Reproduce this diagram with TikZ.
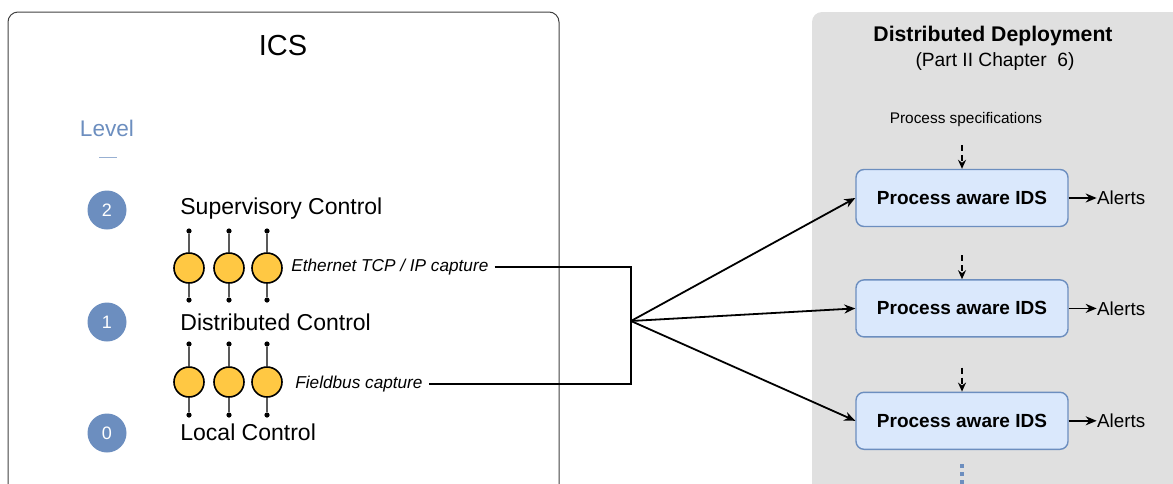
\documentclass[tikz,border=0pt]{standalone}
\usepackage{fontspec}
\setmainfont{Liberation Sans}
\usetikzlibrary{arrows.meta,positioning}
\definecolor{lvlblue}{HTML}{6C8EBF}
\definecolor{tapyellow}{HTML}{FFC843}
\definecolor{idsfill}{HTML}{DAE8FC}
\definecolor{panelgray}{HTML}{E0E0E0}
\tikzstyle{frame} = [draw=black!75,line width=0.5pt,rounded corners=5pt]
\tikzstyle{panel} = [fill=panelgray,rounded corners=5pt]
\tikzstyle{lvl} = [circle,fill=lvlblue,text=white,inner sep=0,minimum size=19.5pt,font=\fontsize{9}{10}\selectfont]
\tikzstyle{lvlname} = [anchor=west,inner sep=0,font=\fontsize{11.5}{13}\selectfont]
\tikzstyle{tap} = [draw,line width=0.8pt,circle,inner sep=0,minimum size=15pt,fill=tapyellow]
\tikzstyle{index} = [-,black!65,line width=0.6pt]
\tikzstyle{site} = [circle,fill=black,minimum size=2.6pt,inner sep=0pt,outer sep=0pt]
\tikzstyle{capture} = [anchor=west,inner sep=3pt,font=\fontsize{8.6}{10}\selectfont\itshape]
\tikzstyle{wire} = [-,line width=0.9pt]
\tikzstyle{feed} = [-{Stealth[length=5.5pt,width=4.5pt]},line width=0.9pt]
\tikzstyle{ids} = [draw=lvlblue,fill=idsfill,line width=0.7pt,rounded corners=4pt,minimum width=106pt,minimum height=28.5pt,font=\fontsize{9.5}{11}\selectfont\bfseries]
\tikzstyle{specin} = [-{Stealth[length=4.5pt,width=4pt]},line width=0.7pt,dash pattern=on 3pt off 2pt]
\tikzstyle{alert} = [anchor=west,inner sep=0,font=\fontsize{9.4}{11}\selectfont]
\tikzstyle{more} = [draw=lvlblue,line width=1.8pt,dash pattern=on 2pt off 2pt]

\begin{document}
\begin{tikzpicture}[x=0.5pt,y=-0.5pt]
      \clip (0,0) rectangle (1173,483);
      % ICS side
      \draw[frame] (8,12) rectangle (559,520);
      \node[font=\fontsize{14.5}{17}\selectfont] (ics) at (283,46) {ICS};
      \node[text=lvlblue,font=\fontsize{11.3}{13}\selectfont] (level) at (107,128) {Level};
      \draw[lvlblue!70,line width=0.5pt] (99,157) -- (117,157);
      \node[lvl] (l2) at (107,210) {2};
      \node[lvl] (l1) at (107,322) {1};
      \node[lvl] (l0) at (107,433) {0};
      \node[lvlname] (sup) at (180,209) {Supervisory Control};
      \node[lvlname] (dist) at (180,322) {Distributed Control};
      \node[lvlname] (loc) at (180,432) {Local Control};
      \foreach \x [count=\i] in {189,229,267} {
        \node[site] (ethtop\i) at (\x,231) {};
        \node[site] (ethbot\i) at (\x,300) {};
        \node[tap] (eth\i) at (\x,268) {};
        \draw[index] (ethtop\i) -- (eth\i);
        \draw[index] (eth\i) -- (ethbot\i);
        \node[site] (fbtop\i) at (\x,344) {};
        \node[site] (fbbot\i) at (\x,415) {};
        \node[tap] (fb\i) at (\x,382) {};
        \draw[index] (fbtop\i) -- (fb\i);
        \draw[index] (fb\i) -- (fbbot\i);
      }
      \node[capture] (ethcap) at (285,267) {Ethernet TCP / IP capture};
      \node[capture] (fbcap) at (289,384) {Fieldbus capture};
      \coordinate (bus) at (631,321);
      \draw[wire] (ethcap.east) -| (bus);
      \draw[wire] (bus) |- (fbcap.east);
      % deployment side
      \path[panel] (812,12) rectangle (1200,520);
      \node[font=\fontsize{10.6}{12}\selectfont\bfseries] (dd) at (993,36) {Distributed Deployment};
      \node[font=\fontsize{9.6}{11}\selectfont] (part) at (995,62) {(Part II Chapter\ \ 6)};
      \node[font=\fontsize{7.7}{9}\selectfont] (spec) at (966,120) {Process specifications};
      \node[ids] (ids1) at (962,198) {Process aware IDS};
      \node[ids,below=26pt of ids1] (ids2) {Process aware IDS};
      \node[ids,below=27pt of ids2] (ids3) {Process aware IDS};
      \foreach \i in {1,2,3} {
        \coordinate[above=12pt of ids\i] (in\i);
        \draw[specin] (in\i) -- (ids\i);
        \node[alert,right=14pt of ids\i] (al\i) {Alerts};
        \draw[feed] (ids\i) -- (al\i);
        \draw[feed] (bus) -- (ids\i.west);
      }
      \coordinate[below=7pt of ids3] (moretop);
      \draw[more] (moretop) -- ++(0,40);
    \end{tikzpicture}
\end{document}
